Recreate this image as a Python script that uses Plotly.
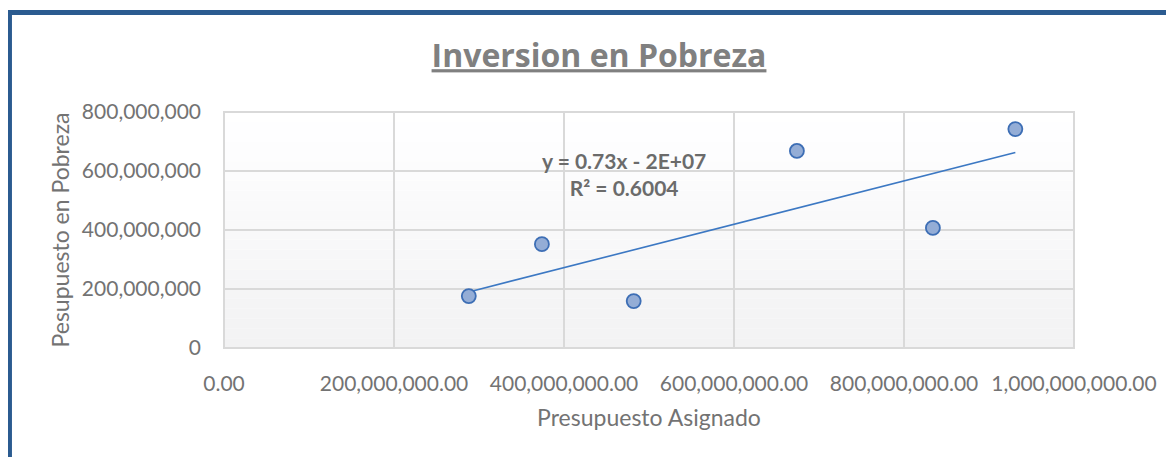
import numpy as np
import plotly.graph_objects as go

# data
presupuesto_asignado = [288e6, 374e6, 482e6, 674e6, 834e6, 931e6]
presupuesto_pobreza = [176e6, 352e6, 159e6, 668e6, 407e6, 742e6]
x_ticks = [0, 200e6, 400e6, 600e6, 800e6, 1000e6]
y_ticks = [0, 200e6, 400e6, 600e6, 800e6]
equation_text = "<b>y = 0.73x - 2E+07<br>R² = 0.6004</b>"

# linear trendline
slope, intercept = np.polyfit(presupuesto_asignado, presupuesto_pobreza, 1)
x_fit = [min(presupuesto_asignado), max(presupuesto_asignado)]
y_fit = [slope * v + intercept for v in x_fit]

fig = go.Figure()
fig.add_trace(go.Scatter(x=x_fit, y=y_fit, mode='lines',
                         line=dict(color='#3C78C3', width=1.6),
                         hoverinfo='skip'))
fig.add_trace(go.Scatter(x=presupuesto_asignado, y=presupuesto_pobreza,
                         mode='markers',
                         marker=dict(size=14, color='#94ADD6',
                                     line=dict(color='#3D6EB5', width=1.8))))

# plot area gradient (white to light gray)
n = 24
shapes = []
for i in range(n):
    t = i / (n - 1)
    c = int(round(242 + (255 - 242) * t))
    shapes.append(dict(type='rect', xref='x domain', yref='y domain',
                       x0=0, x1=1, y0=i / n, y1=(i + 1) / n,
                       fillcolor=f'rgb({c},{c},{min(c + 1, 255)})',
                       line=dict(width=0), layer='below'))
# plot area outline
shapes.append(dict(type='rect', xref='x domain', yref='y domain',
                   x0=0, x1=1, y0=0, y1=1,
                   line=dict(color='#D9D9D9', width=2), layer='below'))
# chart frame
shapes.append(dict(type='rect', xref='paper', yref='paper',
                   x0=-0.2524, x1=1.13, y0=-0.5, y1=1.4216,
                   line=dict(color='#2B5B90', width=5)))

# page body adds an 8px offset, so the figure is a bit smaller
W, H = 1166, 449
fig.update_layout(
    width=W, height=H,
    margin=dict(l=216, r=100, t=104, b=109),
    paper_bgcolor='white',
    plot_bgcolor='white',
    showlegend=False,
    font=dict(family='Lato', color='#737373', size=21),
    title=dict(text='<b><u>Inversion en Pobreza</u></b>',
               x=(599 - 8) / W, xanchor='center',
               y=1 - (56 - 8) / H, yanchor='middle',
               font=dict(size=32, color='#808080', family='Open Sans')),
    shapes=shapes,
    annotations=[dict(text=equation_text,
                      xref='paper', yref='paper',
                      x=(624 - 224) / 850, y=(348 - 174) / 236,
                      xanchor='center', yanchor='middle',
                      showarrow=False,
                      font=dict(size=21, color='#6B6B6B', family='Lato'))],
)

fig.update_xaxes(
    range=[0, 1000e6], tickvals=x_ticks, tickformat=',.2f',
    showgrid=True, gridcolor='#D9D9D9', gridwidth=1.5,
    zeroline=False, showline=False, ticks='', ticklabelstandoff=21,
    title=dict(text='Presupuesto Asignado', standoff=15,
               font=dict(size=23, color='#737373')),
)
fig.update_yaxes(
    range=[0, 800e6], tickvals=y_ticks, tickformat=',d',
    showgrid=True, gridcolor='#D9D9D9', gridwidth=1.5,
    zeroline=False, showline=False, ticks='', ticklabelstandoff=22,
    title=dict(text='Pesupuesto en Pobreza', standoff=5,
               font=dict(size=23, color='#737373')),
)

fig.write_html("out.html")
